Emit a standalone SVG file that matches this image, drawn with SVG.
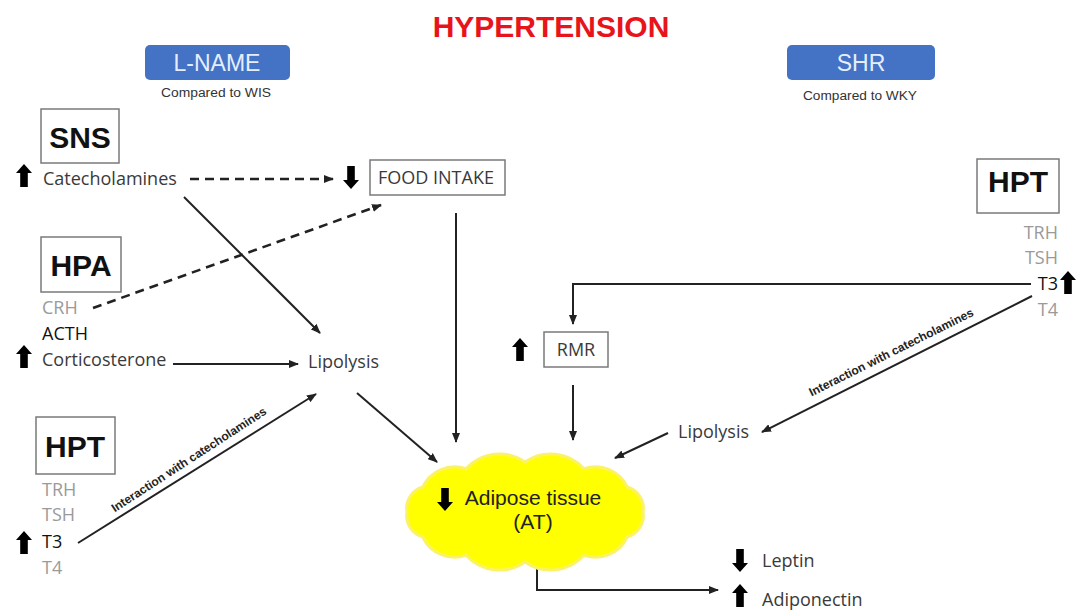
<svg xmlns="http://www.w3.org/2000/svg" width="1076" height="612" viewBox="0 0 1076 612">
<style>
.t{font-family:"Open Sans","Liberation Sans",sans-serif;font-size:18px;fill:#3a3a3a}
.g{fill:#9a9a9a}
.k{fill:#111}
.big{font-family:"Liberation Sans",Arial,sans-serif;font-weight:bold;font-size:30px;fill:#111;text-anchor:middle}
.box{fill:#fff;stroke:#7a7a7a;stroke-width:1.5}
.btn{fill:#4472c4}
.btxt{font-family:"Liberation Sans",Arial,sans-serif;font-size:23px;fill:#e4eeff;text-anchor:middle}
.sub{font-family:"Liberation Sans",Arial,sans-serif;font-size:12px;fill:#333;text-anchor:middle}
.ln{fill:none;stroke:#222;stroke-width:2}
.ds{fill:none;stroke:#222;stroke-width:2.6;stroke-dasharray:9,6}
.lab{font-family:"Liberation Sans",Arial,sans-serif;font-weight:bold;font-size:12px;fill:#222;text-anchor:middle}
</style>
<defs>
<marker id="ah" markerWidth="10" markerHeight="8" refX="9" refY="4" orient="auto" markerUnits="userSpaceOnUse">
<path d="M0,0 L10,4 L0,8 Z" fill="#222"/>
</marker>
<path id="up" d="M0,0 L8,9 L3.8,9 L3.8,23 L-3.8,23 L-3.8,9 L-8,9 Z" fill="#000"/>
<path id="dn" d="M0,23 L8,14 L3.8,14 L3.8,0 L-3.8,0 L-3.8,14 L-8,14 Z" fill="#000"/>
</defs>
<rect width="1076" height="612" fill="#fff"/>

<text x="551" y="37" font-family="Liberation Sans,Arial,sans-serif" font-weight="bold" font-size="30" fill="#e8141c" text-anchor="middle">HYPERTENSION</text>

<g id="lname">
<rect class="btn" x="145" y="45" width="145" height="35" rx="5"/>
<text class="btxt" x="217" y="71">L-NAME</text>
<text class="sub" x="216" y="97" textLength="110" lengthAdjust="spacingAndGlyphs">Compared to WIS</text>
</g>
<g id="shr">
<rect class="btn" x="787" y="45" width="148" height="35" rx="5"/>
<text class="btxt" x="861" y="71">SHR</text>
<text class="sub" x="860" y="100" textLength="114" lengthAdjust="spacingAndGlyphs">Compared to WKY</text>
</g>

<g id="connectors">
<line class="ds" x1="190" y1="179" x2="333" y2="179" marker-end="url(#ah)"/>
<line class="ds" x1="93" y1="308" x2="381" y2="205" marker-end="url(#ah)"/>
<line class="ln" x1="184" y1="197" x2="320" y2="333" marker-end="url(#ah)"/>
<line class="ln" x1="173" y1="364" x2="298" y2="364" marker-end="url(#ah)"/>
<line class="ln" x1="78" y1="543" x2="316" y2="394" marker-end="url(#ah)"/>
<line class="ln" x1="357" y1="393" x2="437" y2="462" marker-end="url(#ah)"/>
<line class="ln" x1="456" y1="213" x2="456" y2="442" marker-end="url(#ah)"/>
<line class="ln" x1="573" y1="385" x2="573" y2="440" marker-end="url(#ah)"/>
<polyline class="ln" points="1031,284 573,284 573,324" marker-end="url(#ah)"/>
<line class="ln" x1="1032" y1="296" x2="762" y2="432" marker-end="url(#ah)"/>
<line class="ln" x1="668" y1="433" x2="615" y2="458" marker-end="url(#ah)"/>
<polyline class="ln" points="537,562 537,590 718,590" marker-end="url(#ah)"/>
<text class="lab" x="191" y="463" transform="rotate(-33 191 463)">Interaction with catecholamines</text>
<text class="lab" x="893" y="356" transform="rotate(-26.5 893 356)">Interaction with catecholamines</text>
</g>

<g id="sns">
<rect class="box" x="41" y="109" width="78" height="54"/>
<text class="big" x="80" y="148">SNS</text>
<use href="#up" x="24" y="164"/>
<text class="t" x="43" y="185">Catecholamines</text>
</g>

<g id="food">
<use href="#dn" x="351" y="166"/>
<rect class="box" x="370" y="160" width="135" height="35"/>
<text class="t" x="378" y="184">FOOD INTAKE</text>
</g>

<g id="hpa">
<rect class="box" x="41" y="237" width="80" height="55"/>
<text class="big" x="81" y="276">HPA</text>
<text class="t g" x="42" y="314">CRH</text>
<text class="t k" x="42" y="340">ACTH</text>
<use href="#up" x="24" y="345"/>
<text class="t" x="42" y="366">Corticosterone</text>
</g>

<g id="lipo-left">
<text class="t" x="308" y="368">Lipolysis</text>
</g>

<g id="hpt-left">
<rect class="box" x="36" y="417" width="79" height="57"/>
<text class="big" x="75" y="457">HPT</text>
<text class="t g" x="42" y="496">TRH</text>
<text class="t g" x="42" y="521">TSH</text>
<use href="#up" x="24" y="531"/>
<text class="t k" x="42" y="548">T3</text>
<text class="t g" x="42" y="574">T4</text>
</g>

<g id="hpt-right">
<rect class="box" x="977" y="159" width="82" height="54"/>
<text class="big" x="1018" y="192">HPT</text>
<text class="t g" x="1058" y="239" text-anchor="end">TRH</text>
<text class="t g" x="1058" y="264" text-anchor="end">TSH</text>
<text class="t k" x="1058" y="290" text-anchor="end">T3</text>
<use href="#up" x="1068" y="271"/>
<text class="t g" x="1058" y="316" text-anchor="end">T4</text>
</g>

<g id="rmr">
<use href="#up" x="520" y="338"/>
<rect class="box" x="544" y="332" width="64" height="35"/>
<text class="t" x="576" y="356" text-anchor="middle">RMR</text>
</g>

<g id="lipo-right">
<text class="t" x="678" y="438">Lipolysis</text>
</g>

<g id="at">
<path d="M407,512 A22,22 0 0 1 422.8,487 A35,35 0 0 1 466,468.7 A45,45 0 0 1 525,462 A45,45 0 0 1 584,468.7 A35,35 0 0 1 627.2,487 A22,22 0 0 1 643,512 A22,22 0 0 1 627.2,537 A35,35 0 0 1 584,555.3 A45,45 0 0 1 525,562 A45,45 0 0 1 466,555.3 A35,35 0 0 1 422.8,537 A22,22 0 0 1 407,512 Z" fill="#ffff00" stroke="#fbf26a" stroke-width="3"/>
<use href="#dn" x="445" y="488"/>
<text x="533" y="505" font-family="Liberation Sans,Arial,sans-serif" font-size="21" fill="#222" text-anchor="middle">Adipose tissue</text>
<text x="533" y="529" font-family="Liberation Sans,Arial,sans-serif" font-size="21" fill="#222" text-anchor="middle">(AT)</text>
</g>

<g id="adipokines">
<use href="#dn" x="740" y="549"/>
<text class="t" x="762" y="567">Leptin</text>
<use href="#up" x="740" y="584"/>
<text class="t" x="762" y="606">Adiponectin</text>
</g>
</svg>
